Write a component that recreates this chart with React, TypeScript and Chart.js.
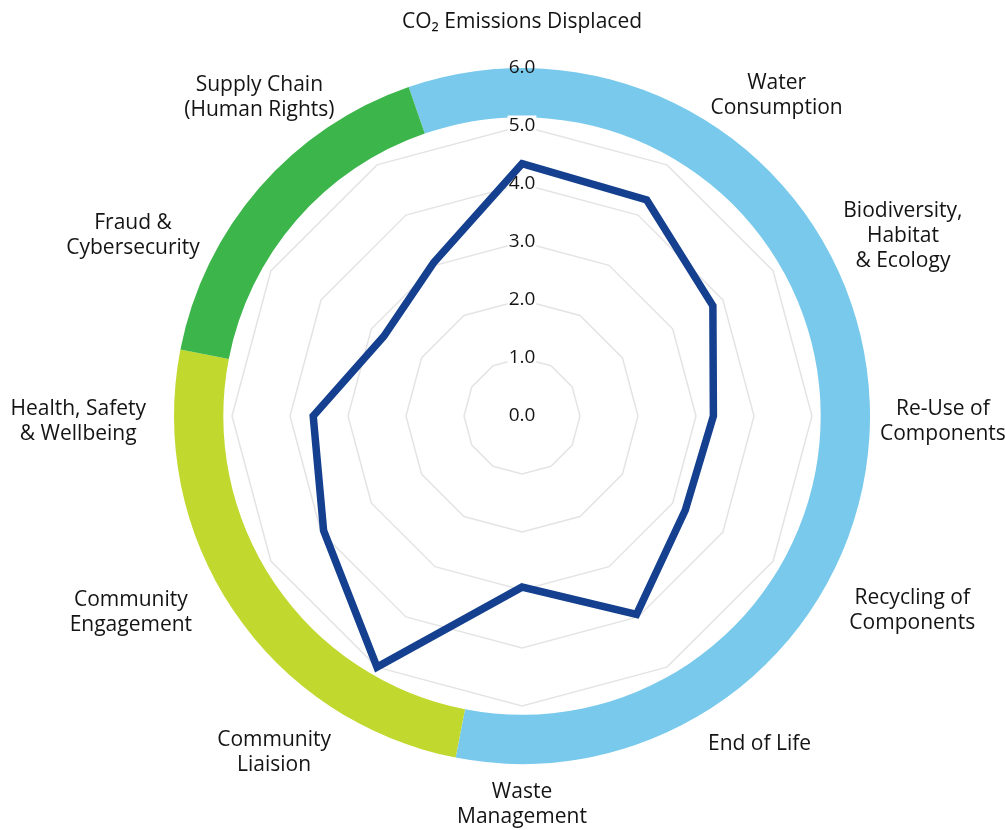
import React, { useEffect, useRef } from 'react';
import { Chart, registerables } from 'chart.js';

Chart.register(...registerables);

// ---- data ----
const CATEGORIES: string[][] = [
  ['CO₂ Emissions Displaced'],
  ['Water', 'Consumption'],
  ['Biodiversity,', 'Habitat', '& Ecology'],
  ['Re-Use of', 'Components'],
  ['Recycling of', 'Components'],
  ['End of Life'],
  ['Waste', 'Management'],
  ['Community', 'Liaision'],
  ['Community', 'Engagement'],
  ['Health, Safety', '& Wellbeing'],
  ['Fraud &', 'Cybersecurity'],
  ['Supply Chain', '(Human Rights)'],
];
const SCORES: number[] = [4.35, 4.3, 3.8, 3.3, 3.25, 3.95, 2.95, 5.0, 3.95, 3.6, 2.75, 3.05];
const SCALE_MIN = 0;
const SCALE_MAX = 6;
const SCALE_STEP = 1;
// outer ring groups: number of consecutive categories in each group (clockwise from the top)
const GROUP_SIZES: number[] = [7, 3, 2];
const GROUP_COLORS: string[] = ['#78C9EB', '#C1D82F', '#3CB54A'];

// ---- styling ----
const FONT = "'Open Sans', 'Noto Sans', sans-serif";
const TEXT_COLOR = '#141414';
const LABEL_SIZE = 21;
const LABEL_LINE = 25;
const LABEL_DY = 6;
const TICK_SIZE = 19;
const LABEL_GAPS = [39, 29, 23, 10, 30, 24, 10, 34, 33, 28, 24, 27];
const RING_INNER_VALUE = 5.15;
const RING_ROTATION_DEG = -19;

const ringPlugin = {
  id: 'outerRing',
  beforeDraw(chart: any) {
    const s = chart.scales.r;
    const ctx = chart.ctx;
    const outer = s.getDistanceFromCenterForValue(SCALE_MAX);
    const inner = s.getDistanceFromCenterForValue(RING_INNER_VALUE);
    const step = (2 * Math.PI) / CATEGORIES.length;
    let a = s.getIndexAngle(0) - Math.PI / 2 + (RING_ROTATION_DEG * Math.PI) / 180;
    ctx.save();
    GROUP_SIZES.forEach((n, k) => {
      const b = a + n * step;
      ctx.beginPath();
      ctx.arc(s.xCenter, s.yCenter, outer, a, b);
      ctx.arc(s.xCenter, s.yCenter, inner, b, a, true);
      ctx.closePath();
      ctx.fillStyle = GROUP_COLORS[k];
      ctx.fill();
      a = b;
    });
    ctx.restore();
  },
};

const labelPlugin = {
  id: 'centeredPointLabels',
  afterDraw(chart: any) {
    const s = chart.scales.r;
    const ctx = chart.ctx;
    ctx.save();
    ctx.fillStyle = TEXT_COLOR;
    ctx.textAlign = 'center';
    ctx.textBaseline = 'middle';
    // zero tick at the centre (Chart.js skips it on radial scales)
    ctx.font = `${TICK_SIZE}px ${FONT}`;
    ctx.fillText(
      SCALE_MIN.toFixed(1),
      s.xCenter,
      s.yCenter - s.getDistanceFromCenterForValue(SCALE_MIN)
    );
    ctx.font = `${LABEL_SIZE}px ${FONT}`;
    CATEGORIES.forEach((lines, i) => {
      const p = s.getPointPosition(i, s.drawingArea + LABEL_GAPS[i]);
      let deg = Math.round(((p.angle + Math.PI / 2) * 180) / Math.PI);
      deg = ((deg % 360) + 360) % 360;
      const w = Math.max(...lines.map((l) => ctx.measureText(l).width));
      const h = lines.length * LABEL_LINE;
      let left: number;
      if (deg === 0 || deg === 180) left = p.x - w / 2;
      else if (deg < 180) left = p.x;
      else left = p.x - w;
      let top: number;
      if (deg === 0) top = p.y - h;
      else if (deg === 180) top = p.y;
      else top = p.y - h / 2;
      top += LABEL_DY;
      lines.forEach((l, k) => {
        ctx.fillText(l, left + w / 2, top + LABEL_LINE * (k + 0.5));
      });
    });
    ctx.restore();
  },
};

export default function App() {
  const ref = useRef<HTMLCanvasElement | null>(null);
  useEffect(() => {
    document.body.style.margin = '0';
    if (!ref.current) return;
    const chart = new Chart(ref.current, {
      type: 'radar',
      data: {
        labels: CATEGORIES,
        datasets: [
          {
            data: SCORES,
            borderColor: '#15408F',
            borderWidth: 7.5,
            borderJoinStyle: 'miter',
            fill: false,
            pointRadius: 0,
            pointHoverRadius: 0,
            tension: 0,
          },
        ],
      },
      options: {
        responsive: false,
        animation: false,
        devicePixelRatio: 1,
        layout: { padding: { left: 39, right: 0, top: 57, bottom: 55 } },
        plugins: { legend: { display: false }, tooltip: { enabled: false } },
        scales: {
          r: {
            min: SCALE_MIN,
            max: SCALE_MAX,
            angleLines: { display: false },
            grid: {
              color: (c: any) => (c.tick && c.tick.value === SCALE_MAX ? 'rgba(0,0,0,0)' : '#e4e4e4'),
              lineWidth: 1.5,
            },
            pointLabels: { display: false },
            ticks: {
              stepSize: SCALE_STEP,
              callback: (v: any) => Number(v).toFixed(1),
              font: { family: FONT, size: TICK_SIZE },
              color: TEXT_COLOR,
              backdropColor: (c: any) => (c.tick && c.tick.value === SCALE_MAX ? 'rgba(0,0,0,0)' : '#ffffff'),
              backdropPadding: { top: 1, bottom: 2, left: 1, right: 1 },
            },
          },
        },
      } as any,
      plugins: [ringPlugin, labelPlugin],
    });
    return () => chart.destroy();
  }, []);
  return (
    <div style={{ width: 1005, height: 830 }}>
      <canvas ref={ref} width={1005} height={830} />
    </div>
  );
}
